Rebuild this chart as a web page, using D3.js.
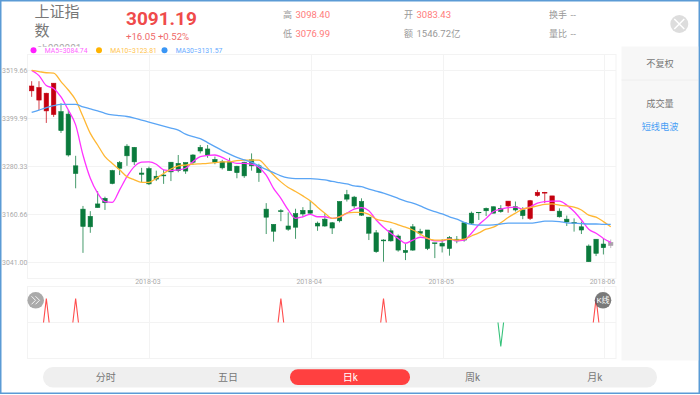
<!DOCTYPE html>
<html>
<head>
<meta charset="utf-8">
<script src="https://cdn.jsdelivr.net/npm/d3@7"></script>
<style>
html, body { margin: 0; padding: 0; background: #fff; }
svg { display: block; }
text { font-family: Roboto, "Noto Sans CJK SC", sans-serif; }
</style>
</head>
<body>
<svg width="700" height="395"></svg>
<script>
const months = [
    ['2018-01', [31]],
    ['2018-02', [1,2,5,6,7,8,9,12,13,14,22,23,26,27,28]],
    ['2018-03', [1,2,5,6,7,8,9,12,13,14,15,16,19,20,21,22,23,26,27,28,29,30]],
    ['2018-04', [2,3,4,9,10,11,12,13,16,17,18,19,20,23,24,25,26,27]],
    ['2018-05', [2,3,4,7,8,9,10,11,14,15,16,17,18,21,22,23,24,25,28,29,30,31]],
    ['2018-06', [1,4]]
]
const dates = months.flatMap(([m, days]) => days.map(d => `${m}-${String(d).padStart(2, '0')}`))

const opens = [3469,3446,3419,3410,3417,3411,3282,3174,3156,3187,3201,3270,3290,3331,3328,3264,3275,3256,3259,3291,
    3288,3290,3309,3328,3324,3298,3292,3292,3281,3291,3297,3282,3174,3136,3170,3132,3163,3171,3171,3139,
    3149,3140,3193,3210,3204,3193,3154,3115,3097,3120,3107,3071,3130,3118,3122,3090,3089,3103,3099,3140,
    3164,3166,3176,3180,3176,3182,3180,3172,3151,3208,3214,3170,3169,3149,3141,3130,3082,3099,3087,3083.43]
const closes = [3481,3477,3463,3488,3370,3309,3263,3131,3130,3178,3190,3238,3276,3307,3292,3261,3237,3249,3257,3267,
    3270,3269,3291,3319,3309,3291,3277,3270,3265,3257,3282,3265,3154,3119,3168,3124,3129,3162,3164,3132,
    3132,3127,3145,3199,3182,3159,3114,3068,3095,3095,3072,3066,3072,3114,3076,3088,3082,3076,3095,3097,
    3139,3165,3170,3164,3168,3194,3172,3158,3195,3216,3216,3207,3155,3142,3139,3122,3043,3064,3078,3091.19]
const lows = [3454,3421,3389,3404,3364,3305,3226,3065,3115,3178,3172,3236,3259,3282,3284,3241,3234,3244,3237,3244,
    3266,3262,3284,3313,3302,3286,3273,3270,3251,3252,3270,3242,3112,3093,3144,3120,3100,3155,3161,3120,
    3130,3112,3141,3193,3176,3157,3097,3065,3043,3093,3068,3047,3070,3108,3072,3052,3066,3058,3089,3093,
    3135,3147,3157,3164,3165,3165,3168,3149,3147,3205,3189,3170,3153,3132,3118,3112,3043,3057,3061,3076.99]
const highs = [3493,3493,3464,3488,3438,3421,3307,3182,3169,3219,3205,3272,3294,3336,3329,3277,3280,3270,3272,3291,
    3309,3290,3311,3334,3334,3305,3297,3302,3282,3292,3313,3287,3189,3136,3174,3166,3175,3179,3194,3143,
    3164,3142,3193,3222,3207,3201,3154,3122,3099,3126,3111,3087,3137,3125,3122,3090,3099,3107,3107,3140,
    3168,3166,3178,3180,3184,3194,3193,3179,3197,3222,3217,3207,3176,3158,3151,3143,3086,3099,3101,3098.4]

const ma5 = [3520,3507,3482,3475,3454,3421,3384,3309,3251,3214,3193,3191,3222,3255,3280,3291,3292,3286,3272,3270,
    3272,3276,3292,3305,3308,3309,3303,3294,3288,3288,3286,3278,3259,3226,3201,3172,3151,3155,3161,3155,
    3155,3151,3155,3164,3174,3178,3170,3147,3129,3114,3101,3089,3097,3104,3101,3095,3095,3100,3095,3097,
    3114,3135,3151,3168,3174,3178,3179,3174,3180,3189,3193,3194,3194,3184,3168,3147,3124,3114,3101,3091]
const ma10 = [3520,3517,3514,3513,3492,3471,3446,3405,3363,3334,3305,3288,3272,3255,3247,3241,3241,3251,3263,3274,
    3282,3284,3286,3287,3288,3290,3292,3292,3295,3296,3296,3296,3280,3259,3242,3228,3218,3207,3195,3179,
    3164,3151,3155,3164,3166,3166,3161,3149,3145,3141,3135,3129,3122,3112,3101,3097,3097,3099,3097,3099,
    3107,3115,3124,3129,3140,3153,3164,3174,3178,3182,3186,3187,3184,3182,3179,3172,3159,3154,3143,3130]
const ma30 = [3415,3421,3427,3432,3435,3435,3435,3429,3424,3419,3413,3409,3407,3405,3401,3396,3391,3386,3381,3376,
    3371,3361,3355,3350,3340,3330,3320,3311,3303,3297,3291,3282,3273,3265,3257,3252,3250,3250,3250,3249,
    3247,3243,3240,3237,3232,3230,3224,3219,3214,3208,3201,3194,3189,3182,3174,3168,3162,3155,3149,3141,
    3136,3134,3134,3135,3137,3139,3139,3139,3139,3141,3144,3144,3143,3140,3139,3138,3137,3137,3136,3136]

const priceTicks = [3041.00, 3160.66, 3280.33, 3399.99, 3519.66]
const dateTicks = ['2018-03-01', '2018-04-02', '2018-05-02', '2018-06-01']
const signalUp = ['2018-02-02', '2018-02-08', '2018-03-27', '2018-04-18', '2018-05-31']
const signalDown = ['2018-05-14']

const legendNames = ['MA5=3084.74', 'MA10=3123.81', 'MA30=3131.57']
const tabs = ['分时', '五日', '日k', '周k', '月k']

const svg = d3.select('svg')
const left = 27.5, right = 616
const red = '#c4000f', green = '#0a7a3c', lastColor = '#aaa0aa'

// screen frame
svg.append('rect').attr('x', 0.75).attr('y', 0.75).attr('width', 698.5).attr('height', 392.5)
    .attr('fill', '#fff').attr('stroke', '#5b9bd5').attr('stroke-width', 1.5)

let x = d3.scaleBand().domain(dates).range([28, 614.4])
let y = d3.scaleLinear().domain([3041, 3519.66]).range([262.5, 70.5])
let ySignal = d3.scaleLinear().domain([-1.5, 1.5]).range([358.5, 286.5])
let mid = d => x(d) + x.bandwidth() / 2
let gridX = d => Math.floor(mid(d)) + 1.5

// frames and grid
let grid = svg.append('g').attr('stroke', '#f3f3f3').attr('fill', 'none')
grid.append('rect').attr('x', left).attr('y', 54.5).attr('width', right - left).attr('height', 224)
grid.append('rect').attr('x', left).attr('y', 286.5).attr('width', right - left).attr('height', 72)
grid.selectAll('.h').data(priceTicks).enter().append('line')
    .attr('x1', left).attr('x2', right).attr('y1', d => y(d)).attr('y2', d => y(d))
grid.append('line').attr('x1', left).attr('x2', right).attr('y1', ySignal(0)).attr('y2', ySignal(0))
grid.selectAll('.v').data(dateTicks).enter().append('line')
    .attr('x1', gridX).attr('x2', gridX)
    .attr('y1', 54.5).attr('y2', 278.5)
grid.selectAll('.v2').data(dateTicks).enter().append('line')
    .attr('x1', gridX).attr('x2', gridX)
    .attr('y1', 286.5).attr('y2', 358.5)

// axes, labels only
let yAxis = d3.axisRight(y).tickValues(priceTicks).tickSize(0).tickPadding(0).tickFormat(d3.format('.2f'))
let gy = svg.append('g').attr('transform', 'translate(2,0)').call(yAxis)
let xAxis = d3.axisBottom(x).tickValues(dateTicks).tickSize(0).tickPadding(0).tickFormat(d => d.slice(0, 7))
let gx = svg.append('g').attr('transform', 'translate(-1,279.5)').call(xAxis)
for (let a of [gy, gx]) {
    a.select('.domain').remove()
    a.selectAll('text').attr('fill', '#aaa').style('font-size', '7px').style('font-family', 'Roboto')
}

// candles
let candleColor = (d, i) => i === dates.length - 1 ? lastColor : closes[i] >= opens[i] ? red : green
let candles = svg.append('g').selectAll('g').data(dates).enter().append('g')
    .attr('stroke', candleColor)
    .attr('fill', candleColor)
candles.append('line')
    .attr('x1', d => mid(d)).attr('x2', d => mid(d))
    .attr('y1', (d, i) => y(highs[i])).attr('y2', (d, i) => y(lows[i]))
    .attr('stroke-width', 1).attr('stroke-opacity', 0.75)
candles.append('rect')
    .attr('x', d => mid(d) - 2.2).attr('width', 4.4)
    .attr('y', (d, i) => y(Math.max(opens[i], closes[i])))
    .attr('height', (d, i) => Math.abs(y(opens[i]) - y(closes[i])))
    .attr('stroke-width', 0.6)

// moving averages
let line = d3.line().x((d, i) => mid(dates[i])).y(d => y(d)).curve(d3.curveMonotoneX)
let maColors = ['#ff33ff', '#ffb733', '#5aa5f5']
svg.append('g').attr('fill', 'none').attr('stroke-width', 1.3)
    .selectAll('path').data([ma5, ma10, ma30]).enter().append('path')
    .attr('d', line).attr('stroke', (d, i) => maColors[i])

// signal spikes
let spike = d3.line()
let drawSpikes = (list, value, color) => {
    svg.append('g').attr('fill', 'none').attr('stroke', color).attr('stroke-width', 1.1)
        .selectAll('path').data(list).enter().append('path')
        .attr('d', d => spike([[mid(d) - 2.8, ySignal(0)], [mid(d), ySignal(value)], [mid(d) + 2.8, ySignal(0)]]))
}
drawSpikes(signalUp, 1, '#ff4d4d')
drawSpikes(signalDown, -1, '#35c27a')

// legend
let legendDots = ['#ff1fff', '#ffb300', '#3a96f5']
let legendText = ['#ff66ff', '#ffc44d', '#66aaff']
let legendX = [33.5, 99, 164.5]
legendNames.forEach((t, i) => {
    svg.append('circle').attr('cx', legendX[i]).attr('cy', 50.3).attr('r', 3).attr('fill', legendDots[i])
    svg.append('text').attr('x', legendX[i] + 11.3).attr('y', 53.3).attr('fill', legendText[i])
        .style('font-size', '6.8px').text(t)
})

// header
let label = (t, px, py, size, color) => {
    return svg.append('text').attr('x', px).attr('y', py).attr('fill', color).style('font-size', size + 'px').text(t)
}
svg.append('clipPath').attr('id', 'codeClip').append('rect').attr('x', 30).attr('y', 40).attr('width', 60).attr('height', 6.8)
label('sh000001', 37, 51.5, 10, '#aaa').attr('clip-path', 'url(#codeClip)')
label('上证指', 34.5, 17, 15, '#777')
label('数', 34.5, 35.5, 15, '#777')
label('3091.19', 126, 25, 19, '#ef4b4b').style('font-weight', 700)
label('+16.05 +0.52%', 126, 40, 9.6, '#ef6a6a')

let stats = [
    ['高', '3098.40', 283, 18, '#ff7b7b'],
    ['低', '3076.99', 283, 37.2, '#ff7b7b'],
    ['开', '3083.43', 404, 18, '#ff7b7b'],
    ['额', '1546.72亿', 404, 37.2, '#999'],
    ['换手', '--', 549, 18, '#999'],
    ['量比', '--', 549, 37.2, '#999']
]
stats.forEach(([name, value, px, py, color]) => {
    label(name, px, py, 9, '#999')
    label(value, px + name.length * 9 + 3.5, py, 9.5, color)
})

// close button
svg.append('circle').attr('cx', 679.3).attr('cy', 24).attr('r', 9).attr('fill', '#ddd')
svg.append('path').attr('d', 'M674.3 19 L684.3 29 M684.3 19 L674.3 29').attr('stroke', '#fff').attr('stroke-width', 1.5)

// side panel
svg.append('rect').attr('x', 621.5).attr('y', 46.5).attr('width', 76.7).attr('height', 314).attr('fill', '#f7f7f7')
svg.append('line').attr('x1', 621.5).attr('x2', 698).attr('y1', 80).attr('y2', 80).attr('stroke', '#eee')
let sideText = [['不复权', 66.5, '#777'], ['成交量', 106.5, '#777'], ['短线电波', 129.5, '#4a9ff5']]
sideText.forEach(([t, py, c]) => label(t, 660, py, 9.2, c).attr('text-anchor', 'middle'))

// chart buttons
svg.append('circle').attr('cx', 35.7).attr('cy', 300.3).attr('r', 8.3).attr('fill', '#aaa')
svg.append('path').attr('d', 'M31.5 296.3 L35.5 300.3 L31.5 304.3 M35.5 296.3 L39.5 300.3 L35.5 304.3')
    .attr('fill', 'none').attr('stroke', '#fff').attr('stroke-width', 0.9)
svg.append('circle').attr('cx', 603).attr('cy', 300.3).attr('r', 8.3).attr('fill', '#555').attr('fill-opacity', 0.78)
label('K线', 603, 303.2, 8, '#fff').attr('text-anchor', 'middle')

// tab bar
svg.append('rect').attr('x', 43).attr('y', 367).attr('width', 614).attr('height', 20.5).attr('rx', 10).attr('fill', '#efefef')
svg.append('rect').attr('x', 290).attr('y', 369.3).attr('width', 120).attr('height', 15.7).attr('rx', 7.8).attr('fill', '#ff4040')
let tabX = d3.scalePoint().domain(tabs).range([105.7, 594.7])
tabs.forEach(t => {
    label(t, tabX(t), 381, 10, t === '日k' ? '#fff' : '#777').attr('text-anchor', 'middle')
})
</script>
</body>
</html>
